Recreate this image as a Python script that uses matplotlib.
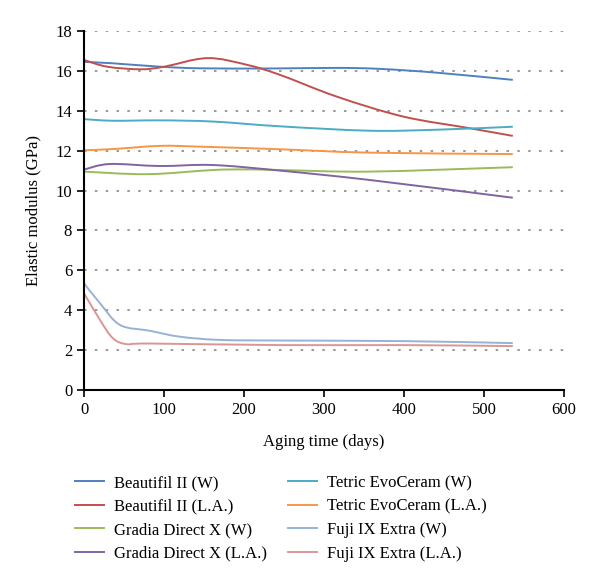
import numpy as np
import matplotlib
matplotlib.use('Agg')
import matplotlib.pyplot as plt
from matplotlib.path import Path
from matplotlib.patches import PathPatch
from matplotlib.lines import Line2D

plt.rcParams['font.family'] = ['Liberation Serif', 'DejaVu Serif']

# values (days, GPa)
beau_w_days = [0, 36, 95, 145, 232, 316, 370, 441, 536]
beau_w = [16.45, 16.38, 16.21, 16.13, 16.12, 16.15, 16.1, 15.91, 15.55]

beau_la_days = [0, 29, 70, 99, 154, 204, 245, 316, 399, 483, 536]
beau_la = [16.55, 16.21, 16.08, 16.2, 16.64, 16.3, 15.8, 14.71, 13.71, 13.12, 12.74]

grad_w_days = [0, 79, 161, 204, 245, 357, 536]
grad_w = [10.95, 10.82, 11.03, 11.06, 11.03, 10.95, 11.17]

grad_la_days = [0, 32, 95, 161, 245, 357, 536]
grad_la = [11.05, 11.33, 11.23, 11.28, 11.0, 10.53, 9.64]

tetric_w_days = [0, 36, 95, 161, 245, 357, 441, 536]
tetric_w = [13.58, 13.5, 13.52, 13.46, 13.22, 13.0, 13.05, 13.2]

tetric_la_days = [0, 36, 95, 145, 245, 357, 536]
tetric_la = [12.02, 12.08, 12.24, 12.2, 12.07, 11.9, 11.83]

fuji_w_days = [0, 20, 45, 82, 120, 170, 245, 400, 536]
fuji_w = [5.35, 4.35, 3.26, 2.97, 2.67, 2.51, 2.48, 2.45, 2.35]

fuji_la_days = [0, 20, 36, 53, 82, 245, 400, 536]
fuji_la = [4.85, 3.51, 2.6, 2.3, 2.33, 2.25, 2.25, 2.2]

series = [
    ('Beautifil II (W)', beau_w_days, beau_w, '#4F81BD'),
    ('Beautifil II (L.A.)', beau_la_days, beau_la, '#C0504D'),
    ('Gradia Direct X (W)', grad_w_days, grad_w, '#9BBB59'),
    ('Gradia Direct X (L.A.)', grad_la_days, grad_la, '#8064A2'),
    ('Tetric EvoCeram (W)', tetric_w_days, tetric_w, '#4BACC6'),
    ('Tetric EvoCeram (L.A.)', tetric_la_days, tetric_la, '#F79646'),
    ('Fuji IX Extra (W)', fuji_w_days, fuji_w, '#95B3D7'),
    ('Fuji IX Extra (L.A.)', fuji_la_days, fuji_la, '#D99694'),
]


def smooth_path(xs, ys):
    # Excel-like smoothed line: cubic bezier through the points
    p = np.column_stack([xs, ys]).astype(float)
    n = len(p)
    verts = [p[0]]
    codes = [Path.MOVETO]
    for i in range(n - 1):
        p0 = p[i - 1] if i > 0 else p[i]
        p1 = p[i]
        p2 = p[i + 1]
        p3 = p[i + 2] if i + 2 < n else p[i + 1]
        c1 = p1 + (p2 - p0) / 6.0
        c2 = p2 - (p3 - p1) / 6.0
        verts += [c1, c2, p2]
        codes += [Path.CURVE4] * 3
    return Path(verts, codes)


fig = plt.figure(figsize=(6, 5.86), dpi=100)
ax = fig.add_axes([0.14, 0.3345, 0.80, 0.6126])

handles = []
for name, d, v, c in series:
    ax.add_patch(PathPatch(smooth_path(d, v), facecolor='none', edgecolor=c, lw=1.4))
    handles.append(Line2D([], [], color=c, lw=1.4, label=name))

ax.set_xlim(0, 600)
ax.set_ylim(0, 18)
ax.set_xticks(range(0, 601, 100))
ax.set_yticks(range(0, 19, 2))
for y in range(2, 19, 2):
    ax.axhline(y, color='#888888', lw=1.2, ls=(0, (1.5, 5)), zorder=0)

for s in ['top', 'right']:
    ax.spines[s].set_visible(False)
for s in ['left', 'bottom']:
    ax.spines[s].set_linewidth(1.5)
ax.tick_params(labelsize=12, width=1.2, length=5)
ax.set_xlabel('Aging time (days)', fontsize=12, labelpad=12)
ax.set_ylabel('Elastic modulus (GPa)', fontsize=12, labelpad=10)

fig.legend(handles=handles, ncol=2, loc='upper center', bbox_to_anchor=(0.468, 0.215),
           frameon=False, fontsize=12, handlelength=1.7, handletextpad=0.6,
           columnspacing=1.3, labelspacing=0.45)

fig.savefig('out.png', dpi=100)
